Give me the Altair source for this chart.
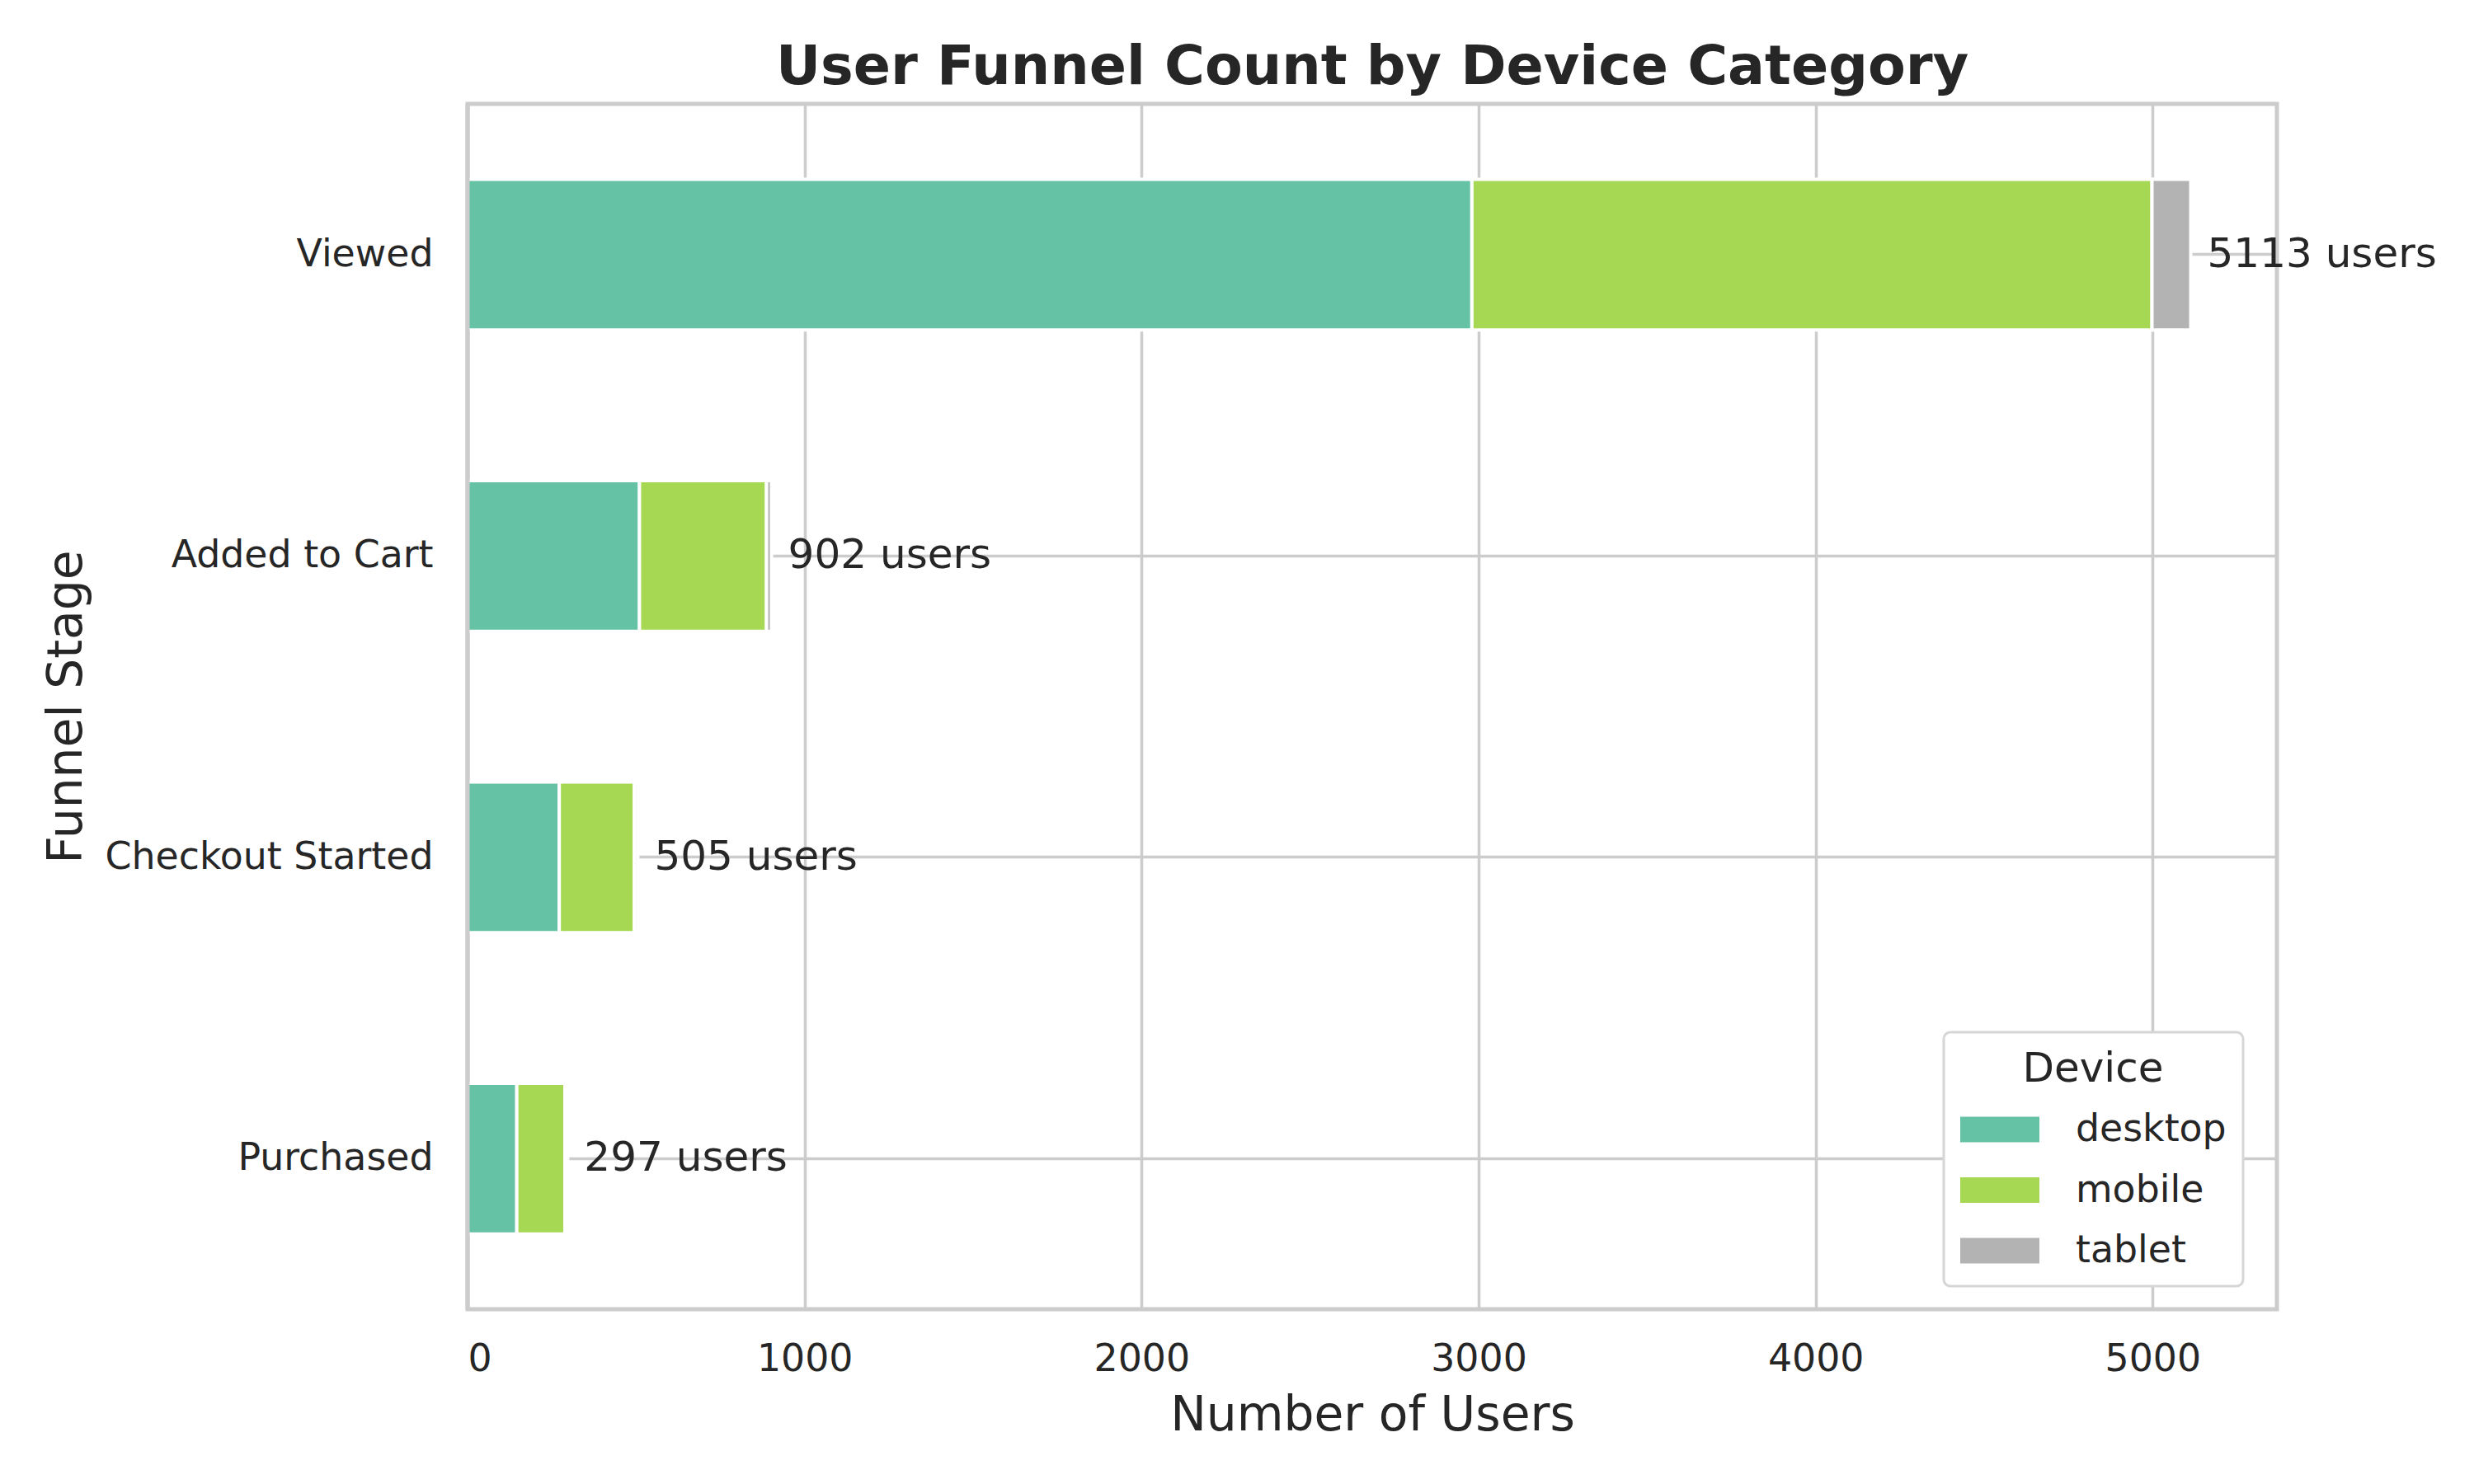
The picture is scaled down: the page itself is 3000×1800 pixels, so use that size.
import altair as alt
import pandas as pd

stages = ["Viewed", "Added to Cart", "Checkout Started", "Purchased"]
devices = ["desktop", "mobile", "tablet"]
desktop = [2980, 510, 272, 146]
mobile = [2018, 377, 223, 143]
tablet = [115, 15, 10, 8]
totals = [5113, 902, 505, 297]
colors = ["#66c2a5", "#a6d854", "#b3b3b3"]
x_ticks = [0, 1000, 2000, 3000, 4000, 5000]
x_max = 5113 * 1.05

series = {"desktop": desktop, "mobile": mobile, "tablet": tablet}
rows = []
for i, s in enumerate(stages):
    for j, d in enumerate(devices):
        rows.append({"stage": s, "device": d, "order": j, "users": series[d][i]})
bars_df = pd.DataFrame(rows)
labels_df = pd.DataFrame({"stage": stages, "total": totals,
                          "text": [f"{t} users" for t in totals]})

TXT = "#262626"
GRID = "#cccccc"
W, H = 2194, 1462

y_enc = alt.Y(
    "stage:N", sort=stages,
    scale=alt.Scale(paddingInner=0.5, paddingOuter=0.25),
    axis=alt.Axis(
        title="Funnel Stage", grid=True, gridColor=GRID, gridWidth=3.5,
        bandPosition=0.5, domain=False, ticks=False,
        labelFontSize=45.8, labelColor=TXT, labelPadding=42, labelLimit=0,
        labelFont="DejaVu Sans",
        titleFontSize=58.3, titleFontWeight="normal", titleColor=TXT,
        titleFont="DejaVu Sans", titleAngle=270, titleX=-469, titleY=H / 2,
        titleBaseline="alphabetic", titleAlign="center",
    ),
)

x_scale = alt.Scale(domain=[0, x_max], nice=False, zero=True)

bars = alt.Chart(bars_df).mark_bar(stroke="white", strokeWidth=4).encode(
    x=alt.X(
        "users:Q", stack="zero", scale=x_scale,
        axis=alt.Axis(
            title="Number of Users", values=x_ticks, format="d",
            grid=True, gridColor=GRID, gridWidth=3.5, domain=False, ticks=False,
            labelFontSize=45.8, labelColor=TXT, labelPadding=38,
            labelFont="DejaVu Sans",
            titleFontSize=58.3, titleFontWeight="normal", titleColor=TXT,
            titleFont="DejaVu Sans", titleX=W / 2, titleY=146,
            titleBaseline="alphabetic",
        ),
    ),
    y=y_enc,
    color=alt.Color(
        "device:N", sort=devices,
        scale=alt.Scale(domain=devices, range=colors),
        legend=alt.Legend(
            title="Device", orient="none", legendX=1790, legendY=1126,
            fillColor="white", strokeColor="#d6d6d6",
            cornerRadius=8, padding=20,
            symbolType="M-1,-0.323H1V0.323H-1Z", symbolSize=9216,
            symbolStrokeWidth=0,
            labelFontSize=45.8, labelColor=TXT, labelFont="DejaVu Sans",
            labelOffset=44, labelLimit=0,
            titleFontSize=50, titleFontWeight="normal", titleColor=TXT,
            titleFont="DejaVu Sans", titleAnchor="middle", titlePadding=0,
            rowPadding=2.5,
        ),
    ),
    order=alt.Order("order:Q"),
)

labels = alt.Chart(labels_df).mark_text(
    align="left", baseline="middle", dx=20, fontSize=50, color=TXT,
    font="DejaVu Sans",
).encode(
    x=alt.X("total:Q", scale=x_scale),
    y=alt.Y("stage:N", sort=stages),
    text="text:N",
)

spine = alt.Chart(pd.DataFrame({"x0": [0]})).mark_rule(
    color=GRID, strokeWidth=5
).encode(x=alt.X("x0:Q", scale=x_scale))

chart = alt.layer(bars, labels, spine).properties(
    width=W, height=H,
    autosize=alt.AutoSizeParams(type="none"),
    padding={"left": 559, "top": 118, "right": 231, "bottom": 204},
    title=alt.TitleParams(
        "User Funnel Count by Device Category", fontSize=66.7,
        fontWeight="bold", color=TXT, font="DejaVu Sans", anchor="middle",
        offset=8,
    ),
).configure(
    background="white",
    style={"cell": {"stroke": GRID, "strokeWidth": 5, "strokeOpacity": 1}},
).configure_view(
    stroke=GRID, strokeWidth=5, strokeOpacity=1
).configure_legend(
    strokeWidth=3
)

chart.save("out.html", embed_options={"renderer": "svg", "actions": False})
